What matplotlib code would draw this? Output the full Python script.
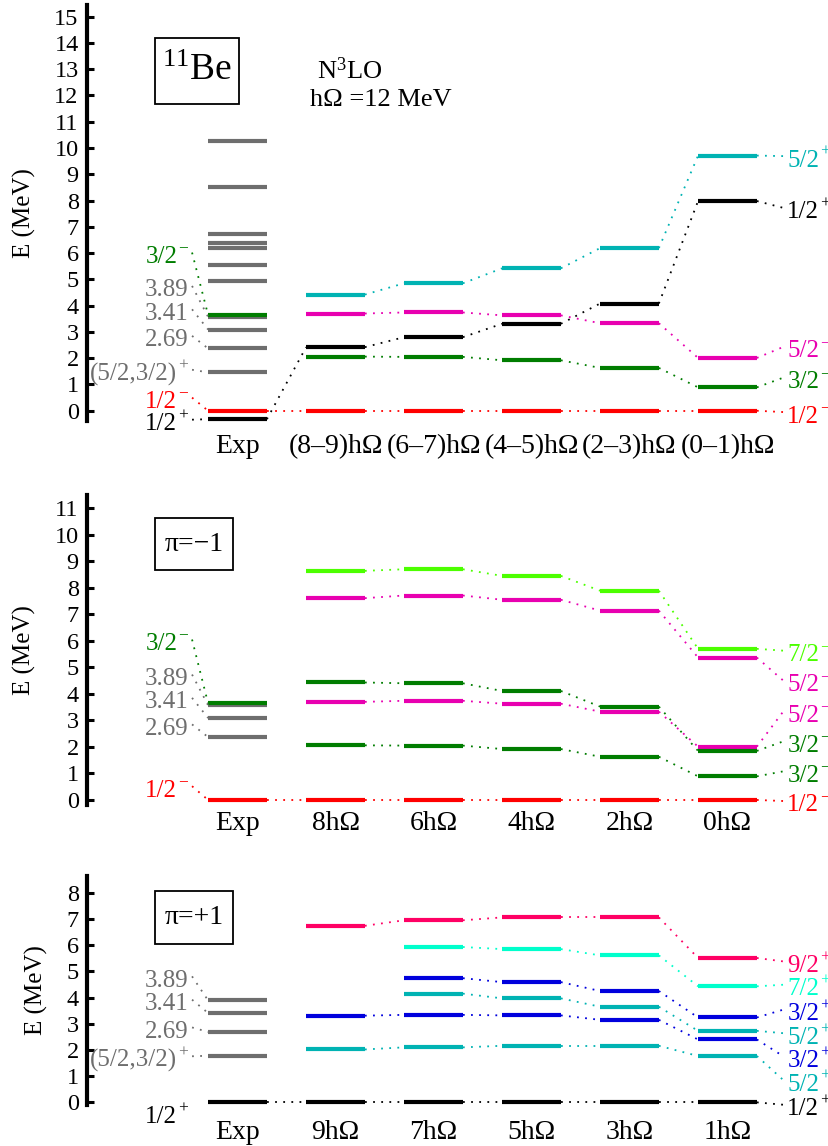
import numpy as np
import matplotlib
matplotlib.use('Agg')
import matplotlib.pyplot as plt
import matplotlib.transforms as mtransforms
from matplotlib.patches import Rectangle

plt.rcParams['font.family'] = ['Liberation Serif', 'DejaVu Serif']
plt.rcParams['mathtext.fontset'] = 'custom'
plt.rcParams['mathtext.rm'] = 'Liberation Serif'
plt.rcParams['mathtext.it'] = 'Liberation Serif:italic'
plt.rcParams['mathtext.bf'] = 'Liberation Serif:bold'

# ---- experimental 11Be levels (MeV, above the 1/2+ ground state)
exp_half_minus = 0.32
exp_three_half_minus = 3.96
exp_grey = [1.78, 2.69, 3.41, 3.89, 5.24, 5.86, 6.51, 6.71, 7.03, 8.82, 10.59]
exp_grey_low = [1.78, 2.69, 3.41, 3.89]

# ---- column labels
cols_all = ['(8–9)hΩ', '(6–7)hΩ', '(4–5)hΩ', '(2–3)hΩ', '(0–1)hΩ']
cols_neg = ['8hΩ', '6hΩ', '4hΩ', '2hΩ', '0hΩ']
cols_pos = ['9hΩ', '7hΩ', '5hΩ', '3hΩ', '1hΩ']

# ---- NCSM, both parities, relative to 1/2-
all_half_minus = [0.0, 0.0, 0.0, 0.0, 0.0]
all_three_half_minus = [2.06, 2.05, 1.92, 1.63, 0.89]
all_half_plus = [2.42, 2.80, 3.31, 4.08, 7.98]
all_five_half_minus = [3.70, 3.74, 3.63, 3.33, 2.01]
all_five_half_plus = [4.42, 4.85, 5.42, 6.19, 9.71]

# ---- negative parity, relative to 1/2-
neg_half = [0.0, 0.0, 0.0, 0.0, 0.0]
neg_three_half_a = [2.06, 2.05, 1.92, 1.63, 0.89]
neg_five_half_a = [3.70, 3.74, 3.63, 3.33, 2.01]
neg_three_half_b = [4.43, 4.40, 4.11, 3.52, 1.85]
neg_five_half_b = [7.61, 7.71, 7.55, 7.14, 5.37]
neg_seven_half = [8.64, 8.70, 8.45, 7.89, 5.70]

# ---- positive parity, relative to 1/2+
pos_half = [0.0, 0.0, 0.0, 0.0, 0.0]
pos_five_half_a = [2.02, 2.10, 2.16, 2.16, 1.77]
pos_three_half_a = [3.31, 3.34, 3.32, 3.15, 2.40]
pos_five_half_b = [None, 4.15, 3.97, 3.65, 2.73]
pos_three_half_b = [None, 4.74, 4.59, 4.25, 3.24]
pos_seven_half = [None, 5.93, 5.85, 5.61, 4.43]
pos_nine_half = [6.74, 6.95, 7.06, 7.06, 5.51]

GREY = '#6e6e6e'
GREEN = '#007d00'
RED = '#ff0000'
MAGENTA = '#e800b0'
CYAN = '#00b3b3'
LIME = '#4cff00'
PINK = '#ff0064'
AQUA = '#00ffcc'
BLUE = '#0000dd'

HW = 0.3            # half width of a level bar
COLX = np.arange(1, 6)
DOT = (0, (1, 3.5))
SUP_RAISE = 7.5     # points

fig = plt.figure(figsize=(8.29, 11.46), dpi=100)
renderer = fig.canvas.get_renderer()


def make_axes(top, bottom, ylim, ymax_tick):
    ax = fig.add_axes([87 / 829, 1 - bottom / 1146, 742 / 829, (bottom - top) / 1146])
    ax.set_xlim(-1.536, 6.036)
    ax.set_ylim(*ylim)
    for s in ['top', 'right', 'bottom']:
        ax.spines[s].set_visible(False)
    ax.spines['left'].set_linewidth(3)
    ax.set_xticks([])
    ax.set_yticks(range(0, ymax_tick + 1))
    ax.tick_params(axis='y', direction='in', length=5, width=2.2, labelsize=17.5, pad=6)
    ax.set_ylabel('E (MeV)', fontsize=18, labelpad=13)
    return ax


def shifted(ax, dx_px=0.0, dy_pt=0.0):
    # digits centred on the given y, plus an optional nudge
    return ax.transData + mtransforms.ScaledTranslation(
        dx_px / fig.dpi, (dy_pt - 6) / 72, fig.dpi_scale_trans)


def spin(ax, x, y, main, sup, color, ha):
    """'5/2' with a raised parity sign, anchored on the left or right edge."""
    if ha == 'left':
        t = ax.text(x, y, main, color=color, fontsize=18, ha='left', va='baseline',
                    transform=shifted(ax))
        w = t.get_window_extent(renderer).width
        if sup:
            ax.text(x, y, sup, color=color, fontsize=12.5, ha='left', va='baseline',
                    transform=shifted(ax, w + 1, SUP_RAISE))
    else:
        w = 0
        if sup:
            s = ax.text(x, y, sup, color=color, fontsize=12.5, ha='right', va='baseline',
                        transform=shifted(ax, 0, SUP_RAISE))
            w = s.get_window_extent(renderer).width + 1
        ax.text(x, y, main, color=color, fontsize=18, ha='right', va='baseline',
                transform=shifted(ax, -w))


def level(ax, x, e, color):
    ax.plot([x - HW, x + HW], [e, e], color=color, lw=3, solid_capstyle='butt')


def series(ax, vals, color, label, sup, label_y, exp_start=None):
    pts = [(x, v) for x, v in zip(COLX, vals) if v is not None]
    for x, v in pts:
        level(ax, x, v, color)
    for (x0, v0), (x1, v1) in zip(pts[:-1], pts[1:]):
        ax.plot([x0 + HW, x1 - HW], [v0, v1], color=color, lw=1.3, ls=DOT)
    if exp_start is not None:
        x1, v1 = pts[0]
        ax.plot([HW, x1 - HW], [exp_start, v1], color=color, lw=1.3, ls=DOT)
    xl, vl = pts[-1]
    ax.plot([xl + HW, 5.57], [vl, label_y + 0.08], color=color, lw=1.3, ls=DOT)
    spin(ax, 5.61, label_y, label, sup, color, 'left')


def left_label(ax, text, sup, color, label_y, target):
    spin(ax, -0.505, label_y, text, sup, color, 'right')
    if target is not None:
        ax.plot([-0.464, -HW], [label_y + 0.08, target], color=color, lw=1.3, ls=DOT)


def col_labels(ax, labels, y):
    ax.text(0, y, 'Exp', fontsize=20, ha='center', va='baseline')
    for x, s in zip(COLX, labels):
        ax.text(x, y, s, fontsize=20, ha='center', va='baseline')


def box(ax, x0, x1, y0, y1, s, size):
    ax.add_patch(Rectangle((x0, y0), x1 - x0, y1 - y0, fc='white', ec='black', lw=1.3))
    ax.text((x0 + x1) / 2, (y0 + y1) / 2, s, fontsize=size, ha='center', va='center')


# ================= top panel: both parities
ax1 = make_axes(5, 421, (-0.39, 15.44), 15)
shift = exp_half_minus
for e in exp_grey:
    level(ax1, 0, e - shift, GREY)
level(ax1, 0, exp_three_half_minus - shift, GREEN)
level(ax1, 0, exp_half_minus - shift, RED)
level(ax1, 0, 0.0 - shift, 'black')

left_label(ax1, '3/2', '−', GREEN, 5.94, exp_three_half_minus - shift)
left_label(ax1, '3.89', '', GREY, 4.67, 3.89 - shift)
left_label(ax1, '3.41', '', GREY, 3.78, 3.41 - shift)
left_label(ax1, '2.69', '', GREY, 2.77, 2.69 - shift)
left_label(ax1, '(5/2,3/2)', '+', GREY, 1.48, 1.78 - shift)
left_label(ax1, '1/2', '−', RED, 0.42, exp_half_minus - shift)
left_label(ax1, '1/2', '+', 'black', -0.42, 0.0 - shift)

series(ax1, all_half_minus, RED, '1/2', '−', -0.13, exp_start=exp_half_minus - shift)
series(ax1, all_three_half_minus, GREEN, '3/2', '−', 1.18)
series(ax1, all_five_half_minus, MAGENTA, '5/2', '−', 2.35)
series(ax1, all_half_plus, 'black', '1/2', '+', 7.64, exp_start=0.0 - shift)
series(ax1, all_five_half_plus, CYAN, '5/2', '+', 9.61)
col_labels(ax1, cols_all, -1.60)

box(ax1, -0.842, 0.015, 11.68, 14.19, '$^{11}$Be', 27)
ax1.text(0.81, 12.93, 'N$^{3}$LO', fontsize=19, ha='left', va='center')
ax1.text(0.74, 11.83, 'hΩ =12 MeV', fontsize=19, ha='left', va='center')

# ================= middle panel: negative parity
ax2 = make_axes(495, 805, (-0.19, 11.5), 11)
for e in exp_grey_low[1:]:
    level(ax2, 0, e - shift, GREY)
level(ax2, 0, exp_three_half_minus - shift, GREEN)
level(ax2, 0, exp_half_minus - shift, RED)

left_label(ax2, '3/2', '−', GREEN, 5.97, exp_three_half_minus - shift)
left_label(ax2, '3.89', '', GREY, 4.65, 3.89 - shift)
left_label(ax2, '3.41', '', GREY, 3.77, 3.41 - shift)
left_label(ax2, '2.69', '', GREY, 2.77, 2.69 - shift)
left_label(ax2, '1/2', '−', RED, 0.44, exp_half_minus - shift)

series(ax2, neg_half, RED, '1/2', '−', -0.12, exp_start=exp_half_minus - shift)
series(ax2, neg_three_half_a, GREEN, '3/2', '−', 1.00)
series(ax2, neg_five_half_a, MAGENTA, '5/2', '−', 3.26)
series(ax2, neg_three_half_b, GREEN, '3/2', '−', 2.13)
series(ax2, neg_five_half_b, MAGENTA, '5/2', '−', 4.42)
series(ax2, neg_seven_half, LIME, '7/2', '−', 5.55)
col_labels(ax2, cols_neg, -1.14)
box(ax2, -0.842, -0.046, 8.67, 10.63, 'π=−1', 20)

# ================= bottom panel: positive parity
ax3 = make_axes(876, 1105, (-0.1, 8.64), 8)
for e in exp_grey_low:
    level(ax3, 0, e, GREY)
level(ax3, 0, 0.0, 'black')

left_label(ax3, '3.89', '', GREY, 4.73, 3.89)
left_label(ax3, '3.41', '', GREY, 3.84, 3.41)
left_label(ax3, '2.69', '', GREY, 2.78, 2.69)
left_label(ax3, '(5/2,3/2)', '+', GREY, 1.68, 1.78)
left_label(ax3, '1/2', '+', 'black', -0.48, None)

series(ax3, pos_half, 'black', '1/2', '+', -0.17, exp_start=0.0)
series(ax3, pos_five_half_a, CYAN, '5/2', '+', 0.77)
series(ax3, pos_three_half_a, BLUE, '3/2', '+', 1.68)
series(ax3, pos_five_half_b, CYAN, '5/2', '+', 2.56)
series(ax3, pos_three_half_b, BLUE, '3/2', '+', 3.46)
series(ax3, pos_seven_half, AQUA, '7/2', '+', 4.41)
series(ax3, pos_nine_half, PINK, '9/2', '+', 5.30)
col_labels(ax3, cols_pos, -1.40)
box(ax3, -0.842, -0.046, 6.04, 8.06, 'π=+1', 20)

for ax in (ax1, ax2, ax3):
    for t in ax.texts:
        t.set_clip_on(False)
    for l in ax.lines:
        l.set_clip_on(False)

fig.savefig('out.png', dpi=100)
